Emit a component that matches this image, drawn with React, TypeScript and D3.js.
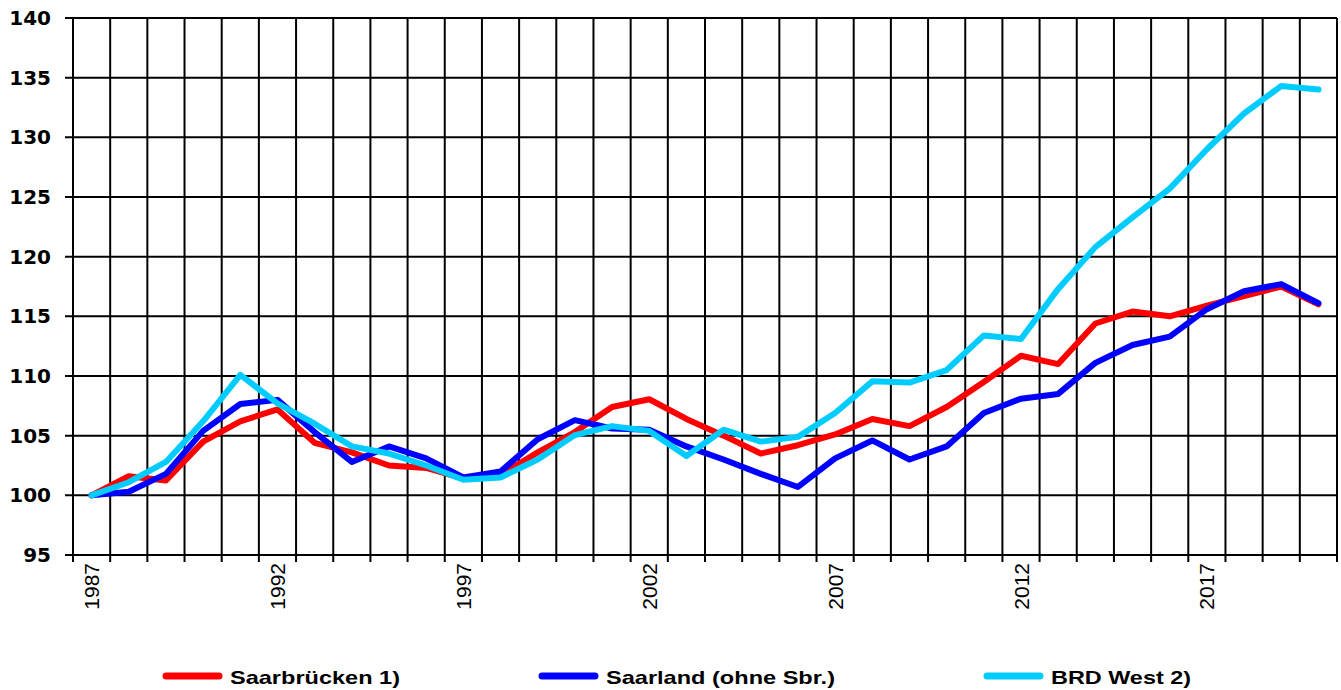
import React from "react";
import * as d3 from "d3";

const years: number[] = d3.range(1987, 2021);
const yTicks: number[] = [95, 100, 105, 110, 115, 120, 125, 130, 135, 140];
const xTickLabels: number[] = [1987, 1992, 1997, 2002, 2007, 2012, 2017];

const saarbruecken: number[] = [
  100, 101.6, 101.25, 104.5, 106.2, 107.2, 104.4, 103.6, 102.5, 102.3,
  101.4, 101.7, 103.6, 105.3, 107.4, 108.05, 106.4, 105.0, 103.5, 104.2,
  105.1, 106.4, 105.8, 107.4, 109.5, 111.7, 111.0, 114.4, 115.4, 115.0,
  115.9, 116.7, 117.5, 116.0,
];
const saarland: number[] = [
  100, 100.3, 101.8, 105.4, 107.65, 108.0, 105.3, 102.8, 104.1, 103.1,
  101.5, 102.0, 104.7, 106.3, 105.6, 105.5, 104.1, 103.0, 101.8, 100.7,
  103.1, 104.6, 103.0, 104.1, 106.9, 108.1, 108.5, 111.1, 112.6, 113.3,
  115.6, 117.1, 117.7, 116.1,
];
const brdWest: number[] = [
  100, 101.1, 102.8, 106.2, 110.1, 107.7, 106.0, 104.1, 103.5, 102.5,
  101.3, 101.5, 103.0, 105.05, 105.8, 105.4, 103.3, 105.5, 104.5, 104.9,
  106.9, 109.55, 109.45, 110.5, 113.4, 113.1, 117.3, 120.8, 123.3, 125.7,
  129.0, 132.0, 134.3, 134.0,
];

const seriesNames: string[] = ["Saarbrücken 1)", "Saarland (ohne Sbr.)", "BRD West 2)"];
const seriesColors: string[] = ["#FF0000", "#0000FF", "#00CCFF"];
const seriesData: number[][] = [saarbruecken, saarland, brdWest];

const W = 1341;
const H = 690;
const left = 73;
const right = 1337;
const top = 18;
const bottom = 555;

export default function App() {
  const x = d3.scaleBand<number>().domain(years).range([left, right]).padding(0);
  const bw = x.bandwidth();
  const cx = (yr: number) => (x(yr) as number) + bw / 2;
  const y = d3.scaleLinear().domain([95, 140]).range([bottom, top]);

  const line = d3
    .line<number>()
    .x((_, i) => cx(years[i]))
    .y((d) => y(d));

  const boundaries = years.map((yr) => x(yr) as number).concat([right]);

  const legendX = [163, 539, 984];
  const legendTextW = [170, 229, 140];

  return (
    <svg
      width={W}
      height={H}
      style={{ position: "absolute", left: 0, top: 0, background: "#fff" }}
    >
      <rect x={0} y={0} width={W} height={H} fill="#fff" />
      {/* horizontal grid */}
      {yTicks.map((t) => (
        <line key={"h" + t} x1={65} x2={right} y1={y(t)} y2={y(t)} stroke="#000" strokeWidth={2} />
      ))}
      {/* vertical grid */}
      {boundaries.map((bx, i) => (
        <line key={"v" + i} x1={bx} x2={bx} y1={top} y2={bottom + 7} stroke="#000" strokeWidth={2} />
      ))}
      {/* y labels */}
      {yTicks.map((t) => (
        <text
          key={"yl" + t}
          x={51}
          y={y(t)}
          textAnchor="end"
          dominantBaseline="central"
          fontFamily="'DejaVu Sans', sans-serif"
          fontWeight="bold"
          fontSize={20}
          fill="#000"
        >
          {t}
        </text>
      ))}
      {/* x labels */}
      {xTickLabels.map((yr) => (
        <text
          key={"xl" + yr}
          transform={`translate(${cx(yr)},${bottom + 8}) rotate(-90)`}
          textAnchor="end"
          dominantBaseline="central"
          fontFamily="'Liberation Sans', Arial, sans-serif"
          fontSize={21}
          fill="#000"
        >
          {yr}
        </text>
      ))}
      {/* lines */}
      {seriesData.map((s, i) => (
        <path
          key={"s" + i}
          d={line(s) || ""}
          fill="none"
          stroke={seriesColors[i]}
          strokeWidth={6}
          strokeLinejoin="round"
          strokeLinecap="round"
        />
      ))}
      {/* legend */}
      {seriesNames.map((n, i) => (
        <g key={"lg" + i}>
          <line
            x1={legendX[i] + 3}
            x2={legendX[i] + 56}
            y1={676}
            y2={676}
            stroke={seriesColors[i]}
            strokeWidth={7}
            strokeLinecap="round"
          />
          <text
            x={legendX[i] + 67}
            y={677}
            dominantBaseline="central"
            fontFamily="'Liberation Sans', Arial, sans-serif"
            fontWeight="bold"
            fontSize={19}
            textLength={legendTextW[i]}
            lengthAdjust="spacingAndGlyphs"
            fill="#000"
          >
            {n}
          </text>
        </g>
      ))}
    </svg>
  );
}
